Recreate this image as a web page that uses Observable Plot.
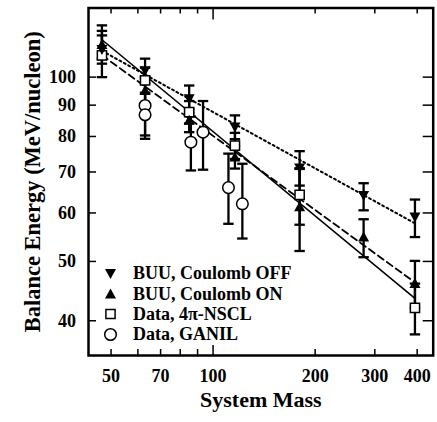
<!DOCTYPE html>
<html><head><meta charset="utf-8">
<script src="https://cdn.jsdelivr.net/npm/d3@7"></script>
<script src="https://cdn.jsdelivr.net/npm/@observablehq/plot@0.6"></script>
<style>body{margin:0;background:#fff;}</style>
</head><body><div id="chart"></div>
<script>
// ---- data ----
const massBUU = [47, 63, 85, 116, 180, 278, 394];
const offVal = [111, 102.5, 92.2, 82.9, 71.1, 64.1, 59.1];
const offLo  = [105.2, 97.8, 87.5, 79.2, 66.5, 60.6, 54.8];
const offHi  = [121.5, 107.2, 96.9, 86.6, 75.7, 67.1, 63.1];
const onVal  = [113, 95.1, 85.0, 74.0, 61.4, 54.8, 46.0];
const onLo   = [107, 90, 81.3, 70.9, 52.0, 50.8, 42.0];
const onHi   = [119, 100, 88.7, 77.1, 70.8, 58.6, 50.1];
const massNSCL = [47, 63, 85, 116, 180, 394];
const nsclVal = [108.5, 98.8, 87.7, 77.3, 64.2, 42.0];
const nsclLo  = [100, 94, 84, 73.5, 57.4, 38.0];
const nsclHi  = [117, 103.6, 91.4, 81.1, 71, 46.0];
const massGANIL = [63, 63, 86, 93.4, 111, 122];
const ganilVal = [89.9, 86.8, 78.3, 81.3, 66.0, 62.1];
const ganilLo  = [80.3, 79.3, 70.4, 70.6, 57.6, 54.5];
const ganilHi  = [99.5, 94.3, 86.2, 91.4, 75, 72.2];
// fit lines (power laws, endpoints)
const fitMass = [47, 394];
const fitSolid = [115.1, 43.5];
const fitDashed = [108.6, 46.2];
const fitDotted = [110.4, 57.7];
// ticks
const xTickLabels = [50, 70, 100, 200, 300, 400];
const xMinorTicks = [50, 60, 70, 80, 90, 200, 300, 400];
const xMajorTicks = [100];
const yTickLabels = [40, 50, 60, 70, 80, 90, 100];
const legendLabels = ["BUU, Coulomb OFF", "BUU, Coulomb ON", "Data, 4\u03c0-NSCL", "Data, GANIL"];

// ---- build tables ----
const mk = (ms, v, lo, hi) => ms.map((m, i) => ({m, v: v[i], lo: lo[i], hi: hi[i]}));
const off = mk(massBUU, offVal, offLo, offHi);
const on = mk(massBUU, onVal, onLo, onHi);
const nscl = mk(massNSCL, nsclVal, nsclLo, nsclHi);
const ganil = mk(massGANIL, ganilVal, ganilLo, ganilHi);
const all = [...off, ...on, ...nscl, ...ganil];
const fits = [
  {vals: fitSolid, dash: null, w: 1.6},
  {vals: fitDashed, dash: "7,4", w: 1.8},
  {vals: fitDotted, dash: "2,3", w: 2}
];

// ---- symbols ----
const rOf = s => Math.sqrt(s / Math.PI);
const downTri = {draw(c, s){ const r = rOf(s); c.moveTo(-r, -0.8*r); c.lineTo(r, -0.8*r); c.lineTo(0, r); c.closePath(); }};
const upTri = {draw(c, s){ const r = rOf(s); c.moveTo(-r, 0.8*r); c.lineTo(r, 0.8*r); c.lineTo(0, -r); c.closePath(); }};
const squareSym = {draw(c, s){ const r = rOf(s); c.rect(-r, -r, 2*r, 2*r); }};
const capSym = {draw(c, s){ const r = rOf(s); c.moveTo(-r, 0); c.lineTo(r, 0); }};

const W = 437, H = 422, mL = 88, mR = 4.3, mT = 7.5, mB = 67;
const innerW = W - mL - mR, innerH = H - mT - mB;
const font = {fontFamily: "Liberation Serif", fontWeight: "bold", fill: "black"};

const marks = [];
// fit lines
for (const f of fits) {
  marks.push(Plot.line(fitMass.map((m, i) => ({m, v: f.vals[i]})), {x: "m", y: "v", stroke: "black", strokeWidth: f.w, strokeDasharray: f.dash}));
}
// error bars
marks.push(Plot.ruleX(all, {x: "m", y1: "lo", y2: "hi", stroke: "black", strokeWidth: 2.3}));
marks.push(Plot.dot(all, {x: "m", y: "lo", symbol: capSym, r: 5.2, stroke: "black", strokeWidth: 2.3, fill: "none"}));
marks.push(Plot.dot(all, {x: "m", y: "hi", symbol: capSym, r: 5.2, stroke: "black", strokeWidth: 2.3, fill: "none"}));
// markers
marks.push(Plot.dot(nscl, {x: "m", y: "v", symbol: squareSym, r: 4.6, fill: "white", stroke: "black", strokeWidth: 1.5}));
marks.push(Plot.dot(ganil, {x: "m", y: "v", symbol: "circle", r: 5.8, fill: "white", stroke: "black", strokeWidth: 1.5}));
marks.push(Plot.dot(on, {x: "m", y: "v", symbol: upTri, r: 5.5, fill: "black", stroke: "none"}));
marks.push(Plot.dot(off, {x: "m", y: "v", symbol: downTri, r: 5.5, fill: "black", stroke: "none"}));
// frame
marks.push(Plot.frame({stroke: "black", strokeWidth: 2.5}));
// ticks (inward)
marks.push(Plot.ruleX(xMinorTicks, {x: d => d, insetTop: innerH - 6, stroke: "black", strokeWidth: 1.5}));
marks.push(Plot.ruleX(xMinorTicks, {x: d => d, insetBottom: innerH - 6, stroke: "black", strokeWidth: 1.5}));
marks.push(Plot.ruleX(xMajorTicks, {x: d => d, insetTop: innerH - 10, stroke: "black", strokeWidth: 1.5}));
marks.push(Plot.ruleX(xMajorTicks, {x: d => d, insetBottom: innerH - 12, stroke: "black", strokeWidth: 1.5}));
marks.push(Plot.ruleY(yTickLabels, {y: d => d, insetRight: innerW - 8, stroke: "black", strokeWidth: 1.5}));
marks.push(Plot.ruleY(yTickLabels, {y: d => d, insetLeft: innerW - 10, stroke: "black", strokeWidth: 1.5}));
// tick labels
marks.push(Plot.text(xTickLabels, {x: d => d, text: d => String(d), frameAnchor: "bottom", dy: 20.5, lineAnchor: "middle", textAnchor: "middle", fontSize: 18, ...font}));
marks.push(Plot.text(yTickLabels, {y: d => d, text: d => String(d), frameAnchor: "left", dx: -12.5, lineAnchor: "middle", textAnchor: "end", fontSize: 18, ...font}));
// axis titles
marks.push(Plot.text(["System Mass"], {text: d => d, frameAnchor: "bottom", dy: 44, lineAnchor: "middle", textAnchor: "middle", fontSize: 22, ...font}));
marks.push(Plot.text(["Balance Energy (MeV/nucleon)"], {text: d => d, frameAnchor: "left", dx: -56, rotate: -90, lineAnchor: "middle", textAnchor: "middle", fontSize: 22.5, ...font}));
// legend
const legSyms = [
  {symbol: downTri, r: 5.5, fill: "black", stroke: "none", sw: 0},
  {symbol: upTri, r: 5.5, fill: "black", stroke: "none", sw: 0},
  {symbol: squareSym, r: 4.6, fill: "white", stroke: "black", sw: 1.5},
  {symbol: "circle", r: 5.8, fill: "white", stroke: "black", sw: 1.5}
];
const legDy = [-82, -61.5, -41.5, -21];
legendLabels.forEach((lab, i) => {
  const s = legSyms[i];
  marks.push(Plot.dot([lab], {frameAnchor: "bottom-left", dx: 22, dy: legDy[i], symbol: s.symbol, r: s.r, fill: s.fill, stroke: s.stroke, strokeWidth: s.sw}));
  marks.push(Plot.text([lab], {text: d => d, frameAnchor: "bottom-left", dx: 44.5, dy: legDy[i], textAnchor: "start", lineAnchor: "middle", fontSize: 18, ...font}));
});

const chart = Plot.plot({
  width: W, height: H,
  marginLeft: mL, marginRight: mR, marginTop: mT, marginBottom: mB,
  style: {background: "white", color: "black"},
  x: {type: "log", domain: [42.9, 446], axis: null},
  y: {type: "log", domain: [35.1, 129.7], axis: null},
  marks
});
document.getElementById("chart").appendChild(chart);
</script>
</body></html>
